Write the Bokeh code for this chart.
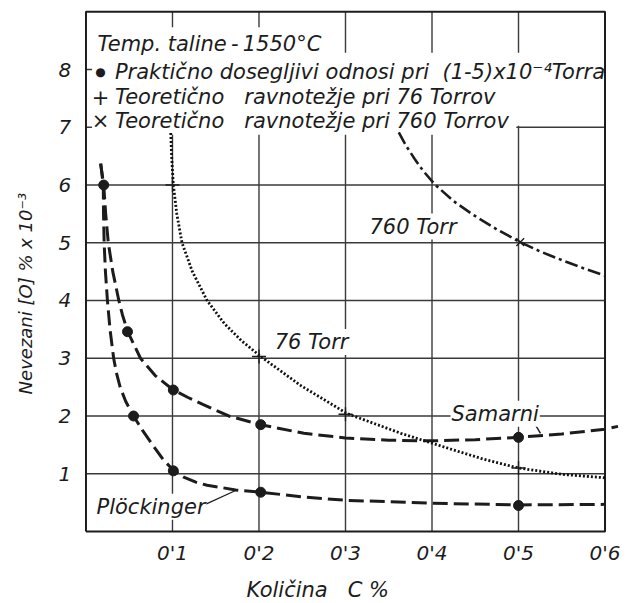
from bokeh.plotting import figure
from bokeh.models import Range1d, Label
from bokeh.core.properties import value
from bokeh.embed import file_html
from bokeh.resources import INLINE

# --- data -------------------------------------------------------------
# Curve through the practically attainable values (Samarni)
samarni_c = [0.017, 0.0205, 0.0228, 0.0258, 0.0310, 0.0380, 0.0422, 0.0483, 0.063,
             0.080, 0.101, 0.118, 0.135, 0.165, 0.202, 0.252, 0.300, 0.350, 0.400,
             0.450, 0.500, 0.550, 0.600, 0.615]
samarni_o = [6.37, 6.00, 5.50, 5.00, 4.50, 4.00, 3.75, 3.46, 3.00,
             2.70, 2.45, 2.32, 2.20, 2.00, 1.85, 1.70, 1.62, 1.58, 1.57,
             1.59, 1.63, 1.69, 1.77, 1.82]

# Curve after Plöckinger
plock_c = [0.017, 0.0200, 0.0203, 0.0210, 0.0225, 0.0248, 0.0278, 0.0320, 0.0352,
           0.0395, 0.0460, 0.0550, 0.065, 0.077, 0.089, 0.101, 0.113, 0.127, 0.140,
           0.153, 0.173, 0.202, 0.250, 0.300, 0.400, 0.500, 0.600]
plock_o = [6.37, 6.00, 5.50, 5.00, 4.50, 4.00, 3.50, 3.00, 2.75,
           2.50, 2.25, 2.00, 1.76, 1.50, 1.25, 1.06, 0.94, 0.855, 0.80,
           0.77, 0.72, 0.68, 0.60, 0.54, 0.49, 0.46, 0.47]

# Measured points (filled dots)
dots_c = [0.0205, 0.048, 0.101, 0.202, 0.500, 0.055, 0.101, 0.202, 0.500]
dots_o = [6.00, 3.46, 2.45, 1.85, 1.63, 2.00, 1.05, 0.68, 0.45]

# Theoretical equilibrium at 76 Torr
t76_c = [0.098, 0.099, 0.101, 0.105, 0.111, 0.123, 0.140, 0.160, 0.180, 0.202,
         0.248, 0.302, 0.364, 0.421, 0.460, 0.500, 0.550, 0.600]
t76_o = [6.90, 6.50, 6.00, 5.50, 5.00, 4.50, 4.00, 3.60, 3.30, 3.03,
         2.53, 2.04, 1.70, 1.43, 1.25, 1.10, 0.99, 0.93]
t76_pts_c = [0.100, 0.200, 0.300, 0.500]
t76_pts_o = [6.00, 3.03, 2.03, 1.10]

# Theoretical equilibrium at 760 Torr
t760_c = [0.3616, 0.370, 0.380, 0.390, 0.404, 0.425, 0.448, 0.475, 0.502, 0.525,
          0.550, 0.575, 0.600]
t760_o = [6.91, 6.68, 6.45, 6.24, 6.00, 5.72, 5.48, 5.23, 5.01, 4.85,
          4.70, 4.56, 4.43]
t760_pts_c = [0.502]
t760_pts_o = [5.01]

# Axes
x_ticks = [0.1, 0.2, 0.3, 0.4, 0.5, 0.6]
x_tick_labels = ["0'1", "0'2", "0'3", "0'4", "0'5", "0'6"]
y_ticks = [1, 2, 3, 4, 5, 6, 7, 8]
y_tick_labels = ["1", "2", "3", "4", "5", "6", "7", "8"]
X_MAX = 0.6
Y_MAX = 9.0

# --- style ------------------------------------------------------------
FONT = "DejaVu Sans"
INK = "#1c1c1c"
GRID = "#3a3a3a"
NB = "\u00a0"

# The frame fills the whole canvas; the chart box (0..0.6, 0..9) sits inside
# it, so tick labels and titles are placed in data space around it.
p = figure(width=629, height=603, output_backend="svg", toolbar_location=None,
           x_range=Range1d(-0.0988, 0.6283), y_range=Range1d(-1.247, 9.195),
           x_axis_type=None, y_axis_type=None, min_border=0)
p.outline_line_color = None
p.background_fill_color = "white"
p.border_fill_color = "white"

# grid lines
p.segment(x0=[0] * len(y_ticks), x1=[X_MAX] * len(y_ticks), y0=y_ticks, y1=y_ticks,
          line_color=GRID, line_width=1.4)
vx = x_ticks[:-1]
p.segment(x0=vx, x1=vx, y0=[0] * len(vx), y1=[Y_MAX] * len(vx),
          line_color=GRID, line_width=1.4)

# white area behind the key text
p.quad(left=[0.007, 0.007, 0.007], right=[0.598, 0.4975, 0.268],
       bottom=[7.025, 6.87, 8.27], top=[8.29, 7.04, 8.73],
       fill_color="white", line_color=None)

# chart box
p.line(x=[0, X_MAX, X_MAX, 0, 0], y=[0, 0, Y_MAX, Y_MAX, 0],
       line_color=INK, line_width=2)

# curves
p.line(samarni_c, samarni_o, line_color=INK, line_width=3, line_dash="15 6")
p.line(plock_c, plock_o, line_color=INK, line_width=3, line_dash="15 6")
p.line(t76_c, t76_o, line_color="#111111", line_width=2.8, line_dash="2 2")
p.line(t760_c, t760_o, line_color=INK, line_width=2.6, line_dash="13 4 3 4")

# markers
p.scatter(dots_c, dots_o, marker="circle", size=10, fill_color=INK, line_color=INK)
p.scatter(t76_pts_c, t76_pts_o, marker="cross", size=14, line_color=INK, line_width=1.4)
p.scatter(t760_pts_c, t760_pts_o, marker="x", size=11, line_color=INK, line_width=1.4)

# leader lines
p.line([0.138, 0.173], [0.47, 0.71], line_color=INK, line_width=1.2)
p.line([0.5197, 0.5254], [1.84, 1.70], line_color=INK, line_width=1.4)

# tick labels
p.text(x=x_ticks, y=[-0.364] * len(x_ticks), text=x_tick_labels,
       text_font=value(FONT), text_font_style="italic", text_font_size="20px",
       text_color=INK, text_align="center", text_baseline="middle")
p.text(x=[-0.0170] * len(y_ticks), y=y_ticks, text=y_tick_labels,
       text_font=value(FONT), text_font_style="italic", text_font_size="20px",
       text_color=INK, text_align="right", text_baseline="middle")


def label(x, y, text, size="21px", align="left", bg=None, angle=0.0, style="italic"):
    lab = Label(x=x, y=y, text=text, text_font=FONT, text_font_style=style,
                text_font_size=size, text_color=INK, text_align=align,
                text_baseline="middle", angle=angle)
    if bg:
        lab.background_fill_color = bg
        lab.padding = 1
    p.add_layout(lab)


# key
label(0.0133, 8.45, f"Temp. taline\u2009-\u20091550°C")
label(0.0168, 7.95, "●", size="12px", align="center", style="normal")
label(0.0168, 7.53, "+", align="center", style="normal")
label(0.0168, 7.10, "×", align="center", style="normal")
label(0.0335, 7.95, f"Praktično dosegljivi odnosi pri{NB} (1-5)x10⁻⁴Torra")
label(0.0335, 7.53, f"Teoretično{NB}{NB} ravnotežje pri 76 Torrov")
label(0.0335, 7.10, f"Teoretično{NB}{NB} ravnotežje pri 760 Torrov")

# curve names
label(0.3266, 5.28, "760 Torr", bg="white")
label(0.2170, 3.28, "76 Torr", bg="white")
label(0.4214, 2.04, "Samarni", bg="white")
label(0.0110, 0.43, "Plöckinger", bg="white")

# axis titles
label(0.268, -1.02, f"Količina{NB}{NB} C %", align="center")
label(-0.0699, 4.12, f"Nevezani [O] % x 10⁻³", size="18px", align="center",
      angle=1.5708)

open("out.html", "w").write(file_html(p, INLINE))
